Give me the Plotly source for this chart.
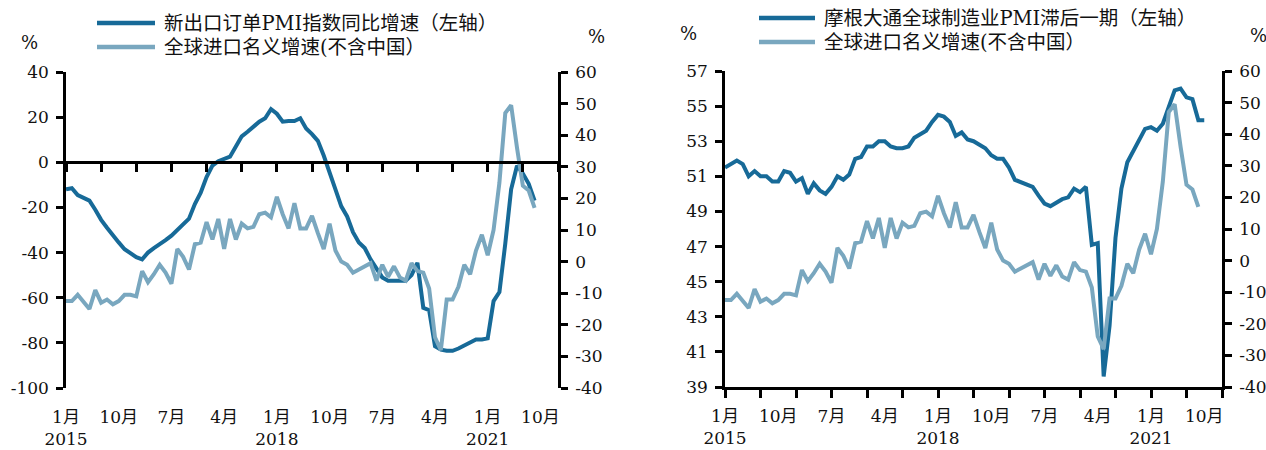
import plotly.graph_objects as go

W, H = 1266, 450

# Monthly index, 0 = 2015-01
export_orders_yoy = [
    -12, -11.5, -14.5, -16, -17, -21, -25.5, -29, -32.5, -35.5,
    -38.5, -40.5, -42, -43, -40, -38, -36.5, -34.5, -32.5, -30,
    -28, -25, -18.5, -13.5, -6.5, -1.5, 0.5, 1.5, 2.5, 7,
    11.5, 13.5, 16, 18, 19.5, 23.5, 21.5, 18, 18.3, 18.3,
    19.5, 15, 12.5, 9.5, 3, -4, -12, -19.5, -24, -31,
    -35.5, -38, -43, -47, -51, -52.5, -52.5, -52.5, -52.5, -50,
    -44.5, -64.5, -65.5, -81.5, -83, -83.5, -83.5, -82.5, -81, -79.5,
    -78.5, -78.5, -78, -61.5, -57.5, -36, -12, -1.5, -5, -9.5,
    -17,
]

imports_ex_china = [
    -12.5, -12.5, -10.5, -13, -15, -9, -13, -12, -13.5, -12.5,
    -10.5, -10.5, -11, -3, -6.5, -4, -1, -3.5, -7, 4,
    1.5, -2.5, 5.5, 6, 12.5, 7, 13.5, 4, 13.5, 7,
    12, 10.5, 11, 15, 15.5, 14, 20.5, 15, 10.5, 18.5,
    10.5, 10.5, 14.5, 9, 4, 12, 3.5, 0, -1, -3.5,
    -2.5, -1.5, -0.5, -6, -1, -4.8, -1.5, -5, -6, -0.5,
    -3, -3.5, -8.5, -24, -28, -12, -12, -8, -1, -4,
    3.5, 8.5, 2, 10, 25, 47, 49.5, 36, 24, 22.5,
    17,
]

jpm_pmi_lag1 = [
    51.5, 51.7, 51.9, 51.7, 51.0, 51.3, 51.0, 51.0, 50.7, 50.7,
    51.3, 51.2, 50.7, 50.9, 50.0, 50.6, 50.2, 50.0, 50.4, 51.0,
    50.8, 51.1, 52.0, 52.1, 52.7, 52.7, 53.0, 53.0, 52.7, 52.6,
    52.6, 52.7, 53.2, 53.4, 53.6, 54.1, 54.5, 54.4, 54.1, 53.3,
    53.5, 53.1, 53.0, 52.8, 52.6, 52.2, 52.0, 52.0, 51.5, 50.8,
    50.65, 50.55, 50.4, 49.9, 49.45, 49.3, 49.5, 49.7, 49.8, 50.3,
    50.1, 50.4, 47.1, 47.2, 39.6, 42.5, 47.5, 50.3, 51.8, 52.4,
    53.0, 53.7, 53.8, 53.6, 54.0, 55.0, 55.9, 56.0, 55.5, 55.4,
    54.2, 54.2,
]

# x-axis labels (every 9 months) and tick marks (every 6 months)
label_months = [0, 9, 18, 27, 36, 45, 54, 63, 72, 81]
label_text = ["1月<br>2015", "10月", "7月", "4月", "1月<br>2018",
              "10月", "7月", "4月", "1月<br>2021", "10月"]
tick_months = list(range(0, 85, 6))
x_range = [0, 84]

# y-axis tick values
export_ticks = [-100, -80, -60, -40, -20, 0, 20, 40]
imports_ticks = [-40, -30, -20, -10, 0, 10, 20, 30, 40, 50, 60]
pmi_ticks = [39, 41, 43, 45, 47, 49, 51, 53, 55, 57]

DARK = "#176A98"
LIGHT = "#79A7BF"
FONT = "DejaVu Serif, Noto Sans CJK SC"
TICK_FONT = dict(family=FONT, size=17, color="#111111")
LEG_FONT = dict(family=FONT, size=19.5, color="#111111")
PCT_FONT = dict(family=FONT, size=18, color="#111111")


def px_x(p):
    return p / W


def px_y(p):
    return 1 - p / H


def labels(vals):
    # plain hyphen-minus for negatives
    return [str(v) for v in vals]


# panel geometry (paper fractions)
L_dom_x = [px_x(66), px_x(558)]
L_dom_y = [px_y(388), px_y(72)]
R_dom_x = [px_x(725), px_x(1222)]
R_dom_y = [px_y(387), px_y(71)]

L_left_range = [-100, 40]
zero_pos = L_dom_y[0] + (0 - L_left_range[0]) / (L_left_range[1] - L_left_range[0]) * (L_dom_y[1] - L_dom_y[0])

fig = go.Figure()

x_exp = list(range(len(export_orders_yoy)))
x_imp = list(range(len(imports_ex_china)))
x_pmi = list(range(len(jpm_pmi_lag1)))

fig.add_trace(go.Scatter(x=x_imp, y=imports_ex_china, mode="lines",
                         line=dict(color=LIGHT, width=4), xaxis="x", yaxis="y2",
                         showlegend=False))
fig.add_trace(go.Scatter(x=x_exp, y=export_orders_yoy, mode="lines",
                         line=dict(color=DARK, width=4), xaxis="x", yaxis="y",
                         showlegend=False))
fig.add_trace(go.Scatter(x=x_imp, y=imports_ex_china, mode="lines",
                         line=dict(color=LIGHT, width=4), xaxis="x2", yaxis="y4",
                         showlegend=False))
fig.add_trace(go.Scatter(x=x_pmi, y=jpm_pmi_lag1, mode="lines",
                         line=dict(color=DARK, width=4), xaxis="x2", yaxis="y3",
                         showlegend=False))
# empty traces so the label-only overlay axes are laid out
fig.add_trace(go.Scatter(x=[], y=[], xaxis="x3", yaxis="y", showlegend=False, hoverinfo="skip"))
fig.add_trace(go.Scatter(x=[], y=[], xaxis="x4", yaxis="y3", showlegend=False, hoverinfo="skip"))

axis_common = dict(showgrid=False, zeroline=False, linecolor="black", linewidth=2.5,
                   tickcolor="black", tickwidth=2.5, tickfont=TICK_FONT, automargin=False)
no_line = {k: v for k, v in axis_common.items() if k != "linewidth"}

fig.update_layout(
    template="none",
    width=W, height=H, autosize=False,
    margin=dict(l=0, r=0, t=0, b=0, pad=0),
    paper_bgcolor="white", plot_bgcolor="white",
    showlegend=False,
    # left panel: axis line with ticks on the zero level
    xaxis=dict(domain=L_dom_x, anchor="free", position=zero_pos, range=x_range,
               tickmode="array", tickvals=tick_months, ticks="outside", ticklen=8,
               showticklabels=False, showline=True, **axis_common),
    # left panel: month/year labels along the bottom
    xaxis3=dict(overlaying="x", anchor="y", range=x_range, tickmode="array",
                tickvals=label_months, ticktext=label_text, ticks="", showline=False,
                ticklabelstandoff=17, **no_line),
    yaxis=dict(domain=L_dom_y, anchor="x", position=L_dom_x[0], range=L_left_range,
               tickmode="array", tickvals=export_ticks, ticktext=labels(export_ticks),
               ticks="outside", ticklen=7, showline=True,
               ticklabelstandoff=4, **axis_common),
    yaxis2=dict(overlaying="y", anchor="x", side="right", range=[-40, 60],
                tickmode="array", tickvals=imports_ticks, ticktext=labels(imports_ticks),
                ticks="outside", ticklen=7, showline=True, ticklabelstandoff=4,
                **axis_common),
    # right panel: bottom axis line with ticks
    xaxis2=dict(domain=R_dom_x, anchor="y3", range=x_range, tickmode="array",
                tickvals=tick_months, ticks="outside", ticklen=8,
                showticklabels=False, showline=True, **axis_common),
    # right panel: month/year labels
    xaxis4=dict(overlaying="x2", anchor="y3", range=x_range, tickmode="array",
                tickvals=label_months, ticktext=label_text, ticks="", showline=False,
                ticklabelstandoff=17, **no_line),
    yaxis3=dict(domain=R_dom_y, anchor="x2", range=[39, 57], tickmode="array",
                tickvals=pmi_ticks, ticktext=labels(pmi_ticks),
                ticks="outside", ticklen=7, showline=True,
                ticklabelstandoff=4, **axis_common),
    yaxis4=dict(overlaying="y3", anchor="x2", side="right", range=[-40, 60],
                tickmode="array", tickvals=imports_ticks, ticktext=labels(imports_ticks),
                ticks="outside", ticklen=7, showline=True, ticklabelstandoff=4,
                **axis_common),
)

# legend keys and unit labels
legend_rows = [
    (97, 155, 162, 23, DARK, "新出口订单PMI指数同比增速（左轴）"),
    (97, 155, 162, 47, LIGHT, "全球进口名义增速(不含中国）"),
    (759, 815, 822, 18, DARK, "摩根大通全球制造业PMI滞后一期（左轴）"),
    (759, 815, 822, 42, LIGHT, "全球进口名义增速(不含中国）"),
]
for x0, x1, xt, y, col, txt in legend_rows:
    fig.add_shape(type="line", xref="paper", yref="paper",
                  x0=px_x(x0), x1=px_x(x1), y0=px_y(y), y1=px_y(y),
                  line=dict(color=col, width=4.5))
    fig.add_annotation(x=px_x(xt), y=px_y(y), xref="paper", yref="paper",
                       text=txt, showarrow=False, xanchor="left", yanchor="middle",
                       font=LEG_FONT)

for x, y in [(30, 42), (596, 37), (688, 33), (1258, 36)]:
    fig.add_annotation(x=px_x(x), y=px_y(y), xref="paper", yref="paper", text="%",
                       showarrow=False, xanchor="center", yanchor="middle", font=PCT_FONT)

fig.write_html("out.html")
